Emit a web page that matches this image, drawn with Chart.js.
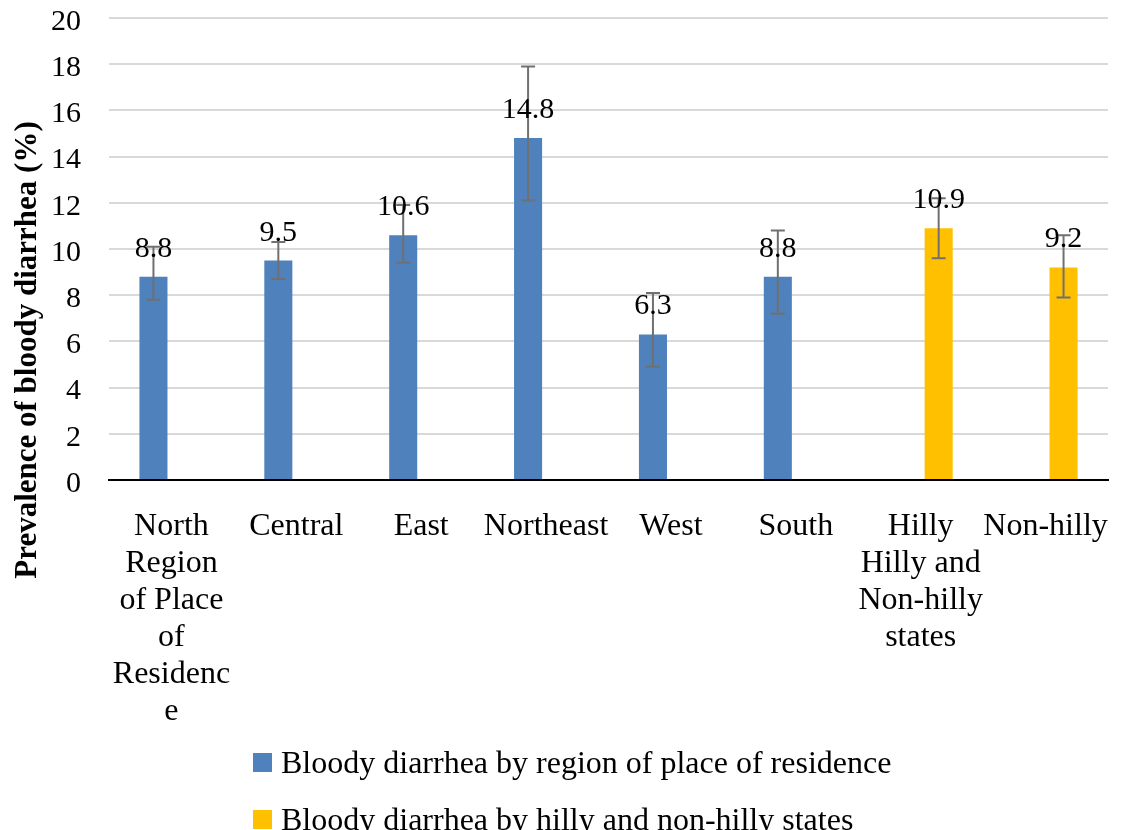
<!DOCTYPE html>
<html>
<head>
<meta charset="utf-8">
<script src="https://cdn.jsdelivr.net/npm/chart.js@4.4.1/dist/chart.umd.min.js"></script>
<style>
  html, body { margin: 0; padding: 0; background: #ffffff; }
  #wrap { width: 1131px; height: 830px; position: relative; }
</style>
</head>
<body>
<div id="wrap"><canvas id="grafico"></canvas></div>
<script>
// categorias (etiquetas multi-linea como en el original)
const categorias = [
    ["North", "Region", "of Place", "of", "Residenc", "e"],
    "Central",
    "East",
    "Northeast",
    "West",
    "South",
    ["Hilly", "Hilly and", "Non-hilly", "states"],
    "Non-hilly"
];
const porRegion = [8.8, 9.5, 10.6, 14.8, 6.3, 8.8, null, null];
const porColinas = [null, null, null, null, null, null, 10.9, 9.2];
// limites del intervalo (barras de error)
const errorBajo = [7.8, 8.7, 9.4, 12.1, 4.9, 7.2, 9.6, 7.9];
const errorAlto = [10.1, 10.3, 11.9, 17.9, 8.1, 10.8, 12.2, 10.6];
const ticksY = [0, 2, 4, 6, 8, 10, 12, 14, 16, 18, 20];

const nombreRegion = "Bloody diarrhea by region of place of residence";
const nombreColinas = "Bloody diarrhea by hilly and non-hilly states";
const tituloY = "Prevalence of bloody diarrhea (%)";

const FUENTE = "'Liberation Serif', 'Times New Roman', serif";
const AZUL = "#4f81bd";
const AMARILLO = "#ffc000";

// Dibuja barras de error, etiquetas de valor, titulo Y y leyenda
const extras = {
    id: 'extras',
    afterDatasetsDraw(chart) {
        const ctx = chart.ctx;
        const y = chart.scales.y;
        ctx.save();
        chart.data.datasets.forEach((ds, d) => {
            const meta = chart.getDatasetMeta(d);
            meta.data.forEach((bar, i) => {
                if (ds.data[i] == null) return;
                const x = bar.x;
                const yAlto = y.getPixelForValue(errorAlto[i]);
                const yBajo = y.getPixelForValue(errorBajo[i]);
                ctx.strokeStyle = '#707070';
                ctx.lineWidth = 2;
                ctx.beginPath();
                ctx.moveTo(x, yAlto); ctx.lineTo(x, yBajo);
                ctx.moveTo(x - 7, yAlto); ctx.lineTo(x + 7, yAlto);
                ctx.moveTo(x - 7, yBajo); ctx.lineTo(x + 7, yBajo);
                ctx.stroke();
            });
        });
        // etiquetas encima de las barras
        ctx.fillStyle = '#000';
        ctx.font = '30px ' + FUENTE;
        ctx.textAlign = 'center';
        ctx.textBaseline = 'alphabetic';
        chart.data.datasets.forEach((ds, d) => {
            const meta = chart.getDatasetMeta(d);
            meta.data.forEach((bar, i) => {
                if (ds.data[i] == null) return;
                ctx.fillText(ds.data[i].toFixed(1), bar.x, bar.y - 20);
            });
        });
        ctx.restore();
    },
    afterDraw(chart) {
        const ctx = chart.ctx;
        ctx.save();
        // titulo del eje Y
        ctx.translate(36, 350);
        ctx.rotate(-Math.PI / 2);
        ctx.font = 'bold 31px ' + FUENTE;
        ctx.fillStyle = '#000';
        ctx.textAlign = 'center';
        ctx.textBaseline = 'alphabetic';
        ctx.fillText(tituloY, 0, 0);
        ctx.restore();

        // leyenda (alineada a la izquierda, una entrada por fila)
        ctx.save();
        ctx.font = '32px ' + FUENTE;
        ctx.textBaseline = 'alphabetic';
        ctx.textAlign = 'left';
        chart.data.datasets.forEach((ds, d) => {
            const base = 773 + d * 57;
            ctx.fillStyle = ds.backgroundColor;
            ctx.fillRect(253, base - 20, 19, 19);
            ctx.fillStyle = '#000';
            ctx.fillText(ds.label, 281, base);
        });
        ctx.restore();
    }
};

const data = {
    labels: categorias,
    datasets: [
        { label: nombreRegion, data: porRegion, backgroundColor: AZUL,
          categoryPercentage: 0.576, barPercentage: 0.78 },
        { label: nombreColinas, data: porColinas, backgroundColor: AMARILLO,
          categoryPercentage: 0.576, barPercentage: 0.78 }
    ]
};

const options = {
    responsive: true,
    maintainAspectRatio: false,
    animation: false,
    layout: { padding: { top: 18, left: 51, right: 23, bottom: 100 } },
    plugins: {
        legend: { display: false },
        tooltip: { enabled: false }
    },
    scales: {
        x: {
            grid: { display: false, drawTicks: false },
            border: { display: true, color: '#000', width: 2 },
            afterFit: (scale) => {
                scale.height = 250;
                scale.paddingLeft = 0;
                scale.paddingRight = 0;
            },
            ticks: {
                color: '#000',
                padding: 28,
                maxRotation: 0,
                autoSkip: false,
                font: { family: FUENTE, size: 32, lineHeight: 1.156 }
            }
        },
        y: {
            min: 0,
            max: 20,
            afterBuildTicks: (scale) => { scale.ticks = ticksY.map(v => ({ value: v })); },
            afterFit: (scale) => {
                scale.width = 58;
                scale.paddingTop = 0;
                scale.paddingBottom = 0;
            },
            grid: { color: '#d9d9d9', lineWidth: 2, drawTicks: false },
            border: { display: false },
            ticks: {
                color: '#000',
                padding: 28,
                labelOffset: 4,
                font: { family: FUENTE, size: 30 }
            }
        }
    }
};

new Chart('grafico', { type: 'bar', data, options, plugins: [extras] });
</script>
</body>
</html>
